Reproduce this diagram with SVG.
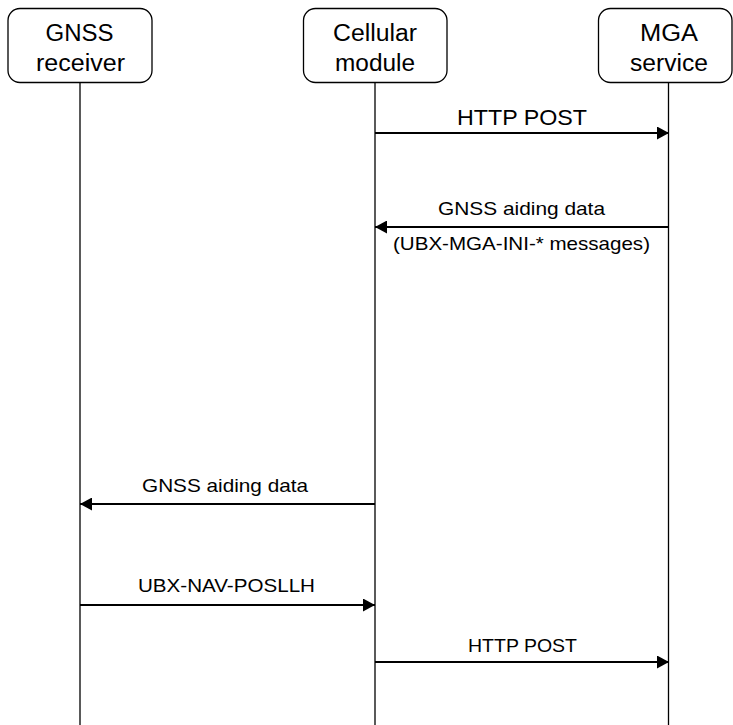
<svg xmlns="http://www.w3.org/2000/svg" width="733" height="725" viewBox="0 0 733 725">
<style>
.box{fill:#fff;stroke:#000;stroke-width:1.3}
.life{stroke:#000;stroke-width:1.3;fill:none}
.msg{stroke:#000;stroke-width:2;fill:none}
.t{font-family:"Liberation Sans",Arial,sans-serif;fill:#000;text-anchor:middle}
.n{font-size:23px}
.s{font-size:18.5px}
</style>
<defs>
<marker id="ah" viewBox="0 0 10 10" refX="10" refY="5" markerWidth="12" markerHeight="13" markerUnits="userSpaceOnUse" orient="auto" preserveAspectRatio="none">
<path d="M0,0 L10,5 L0,10 Z" fill="#000"/>
</marker>
</defs>
<g id="lifelines">
<line class="life" x1="80" y1="82" x2="80" y2="725"/>
<line class="life" x1="375" y1="82" x2="375" y2="725"/>
<line class="life" x1="668.5" y1="82" x2="668.5" y2="725"/>
</g>
<g id="gnss">
<rect class="box" x="8" y="8.5" width="144" height="74" rx="12"/>
<text class="t n" x="79.5" y="41" textLength="68" lengthAdjust="spacingAndGlyphs">GNSS</text>
<text class="t n" x="80.5" y="71" textLength="89" lengthAdjust="spacingAndGlyphs">receiver</text>
</g>
<g id="cellular">
<rect class="box" x="303.5" y="8.5" width="143.5" height="74" rx="12"/>
<text class="t n" x="375" y="41" textLength="84" lengthAdjust="spacingAndGlyphs">Cellular</text>
<text class="t n" x="375" y="71" textLength="80" lengthAdjust="spacingAndGlyphs">module</text>
</g>
<g id="mga">
<rect class="box" x="598.5" y="8.5" width="133.5" height="74" rx="12"/>
<text class="t n" x="669" y="41" textLength="58" lengthAdjust="spacingAndGlyphs">MGA</text>
<text class="t n" x="669" y="71" textLength="78" lengthAdjust="spacingAndGlyphs">service</text>
</g>
<g id="connectors">
<line class="msg" x1="375" y1="133" x2="669" y2="133" marker-end="url(#ah)"/>
<line class="msg" x1="668" y1="227" x2="375" y2="227" marker-end="url(#ah)"/>
<line class="msg" x1="375" y1="504" x2="80" y2="504" marker-end="url(#ah)"/>
<line class="msg" x1="80" y1="605" x2="375" y2="605" marker-end="url(#ah)"/>
<line class="msg" x1="375" y1="662" x2="669" y2="662" marker-end="url(#ah)"/>
</g>
<g id="labels">
<text class="t" x="522" y="125" style="font-size:22px" textLength="130" lengthAdjust="spacingAndGlyphs">HTTP POST</text>
<text class="t s" x="521.5" y="215" textLength="167" lengthAdjust="spacingAndGlyphs">GNSS aiding data</text>
<text class="t s" x="521.5" y="250" textLength="257" lengthAdjust="spacingAndGlyphs">(UBX-MGA-INI-* messages)</text>
<text class="t s" x="225" y="492" textLength="166" lengthAdjust="spacingAndGlyphs">GNSS aiding data</text>
<text class="t s" x="226.5" y="592" textLength="177" lengthAdjust="spacingAndGlyphs">UBX-NAV-POSLLH</text>
<text class="t s" x="522.5" y="652" textLength="109" lengthAdjust="spacingAndGlyphs">HTTP POST</text>
</g>
</svg>
